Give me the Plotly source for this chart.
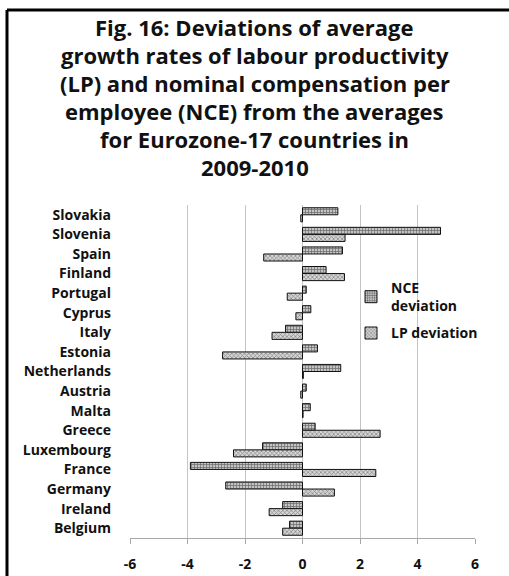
import plotly.graph_objects as go

# Eurozone-17 countries, top to bottom
countries = ["Slovakia", "Slovenia", "Spain", "Finland", "Portugal", "Cyprus",
             "Italy", "Estonia", "Netherlands", "Austria", "Malta", "Greece",
             "Luxembourg", "France", "Germany", "Ireland", "Belgium"]

# Deviation of nominal compensation per employee growth (p.p.)
nce_dev = [1.23, 4.80, 1.39, 0.82, 0.13, 0.29, -0.59, 0.52, 1.33, 0.13,
           0.27, 0.44, -1.39, -3.90, -2.67, -0.69, -0.45]
# Deviation of labour productivity growth (p.p.)
lp_dev = [-0.06, 1.48, -1.35, 1.46, -0.53, -0.23, -1.06, -2.78, 0.03, -0.06,
          0.02, 2.70, -2.40, 2.55, 1.11, -1.16, -0.69]

x_ticks = [-6, -4, -2, 0, 2, 4, 6]
x_range = [-6, 6]

title_lines = ["Fig. 16: Deviations of average",
               "growth rates of labour productivity",
               "(LP) and nominal compensation per",
               "employee (NCE) from the averages",
               "for Eurozone-17 countries in",
               "2009-2010"]

FONT = "Open Sans"
W, H = 509, 576
ML, MR, MT, MB = 130, 34, 205, 38
PW, PH = W - ML - MR, H - MT - MB

fig = go.Figure()
fig.add_trace(go.Bar(
    name="NCE<br>deviation", y=countries, x=nce_dev, orientation="h",
    legendgroup="nce",
    marker=dict(color="#ffffff", line=dict(color="#111111", width=1),
                pattern=dict(shape="+", fgcolor="#1e1e1e", bgcolor="#c4c4c4",
                             size=3, solidity=0.45)),
))
fig.add_trace(go.Bar(
    name="LP deviation", y=countries, x=lp_dev, orientation="h",
    legendgroup="lp",
    marker=dict(color="#ffffff", line=dict(color="#111111", width=1),
                pattern=dict(shape="x", fgcolor="#2a2a2a", bgcolor="#d6d6d6",
                             size=3, solidity=0.4)),
))


def py_to_paper(py):
    """Convert a pixel row of the page to a paper y coordinate."""
    return (H - MB - py) / PH


def px_to_paper(px):
    """Convert a pixel column of the page to a paper x coordinate."""
    return (px - ML) / PW


# title, one annotation per line with fixed line spacing
annotations = []
for i, line in enumerate(title_lines):
    annotations.append(dict(
        text=f"<b>{line}</b>", xref="paper", yref="paper",
        x=px_to_paper(W / 2), y=py_to_paper(27 + 28 * i),
        xanchor="center", yanchor="middle", showarrow=False,
        font=dict(family=FONT, size=22, color="#111111"),
    ))

frame_x = px_to_paper(7)
frame_y = py_to_paper(10)
zero_pos = (0 - x_range[0]) / (x_range[1] - x_range[0])
n = len(countries)

fig.update_layout(
    width=W, height=H,
    margin=dict(l=ML, r=MR, t=MT, b=MB),
    paper_bgcolor="#ffffff", plot_bgcolor="#ffffff",
    barmode="group", bargap=0.28, bargroupgap=0.0,
    font=dict(family=FONT, color="#111111"),
    annotations=annotations,
    xaxis=dict(
        range=x_range, tickvals=x_ticks, ticktext=[str(t) for t in x_ticks],
        showgrid=True, gridcolor="#c4c4c4", gridwidth=1,
        zeroline=False, showline=True, linecolor="#a8a8a8", linewidth=1,
        ticks="outside", ticklen=5, tickcolor="#a8a8a8", ticklabelstandoff=8,
        tickfont=dict(family=FONT, size=14, color="#111111", weight="bold"),
        fixedrange=True, automargin=False,
    ),
    yaxis=dict(
        type="category", categoryorder="array", categoryarray=countries,
        autorange="reversed", showgrid=False, zeroline=False, showline=False,
        ticks="", ticklabelstandoff=18, automargin=False,
        tickfont=dict(family=FONT, size=14, color="#111111", weight="bold"),
    ),
    yaxis2=dict(
        overlaying="y", anchor="free", position=zero_pos,
        range=[n - 0.5, -0.5], tickmode="linear", tick0=-0.5, dtick=1,
        showticklabels=False, showgrid=False, zeroline=False,
        showline=True, linecolor="#a8a8a8", linewidth=1,
        ticks="outside", ticklen=5, tickcolor="#a8a8a8", automargin=False,
    ),
    legend=dict(
        x=px_to_paper(351), y=py_to_paper(272), xanchor="left", yanchor="top",
        bgcolor="rgba(0,0,0,0)", borderwidth=0, traceorder="grouped",
        font=dict(family=FONT, size=14, color="#111111", weight="bold"),
        itemwidth=30, tracegroupgap=6,
    ),
    showlegend=True,
    shapes=[
        # white panel behind the legend, hiding the grid there
        dict(type="rect", xref="paper", yref="paper", layer="between",
             x0=px_to_paper(353), x1=px_to_paper(492),
             y0=py_to_paper(360), y1=py_to_paper(272),
             fillcolor="#ffffff", line=dict(width=0)),
        # outer frame, left and top edges
        dict(type="line", xref="paper", yref="paper",
             x0=frame_x, x1=frame_x, y0=-1, y1=frame_y,
             line=dict(color="#000000", width=3)),
        dict(type="line", xref="paper", yref="paper",
             x0=frame_x, x1=1.5, y0=frame_y, y1=frame_y,
             line=dict(color="#000000", width=3)),
    ],
)

fig.write_html("out.html")
